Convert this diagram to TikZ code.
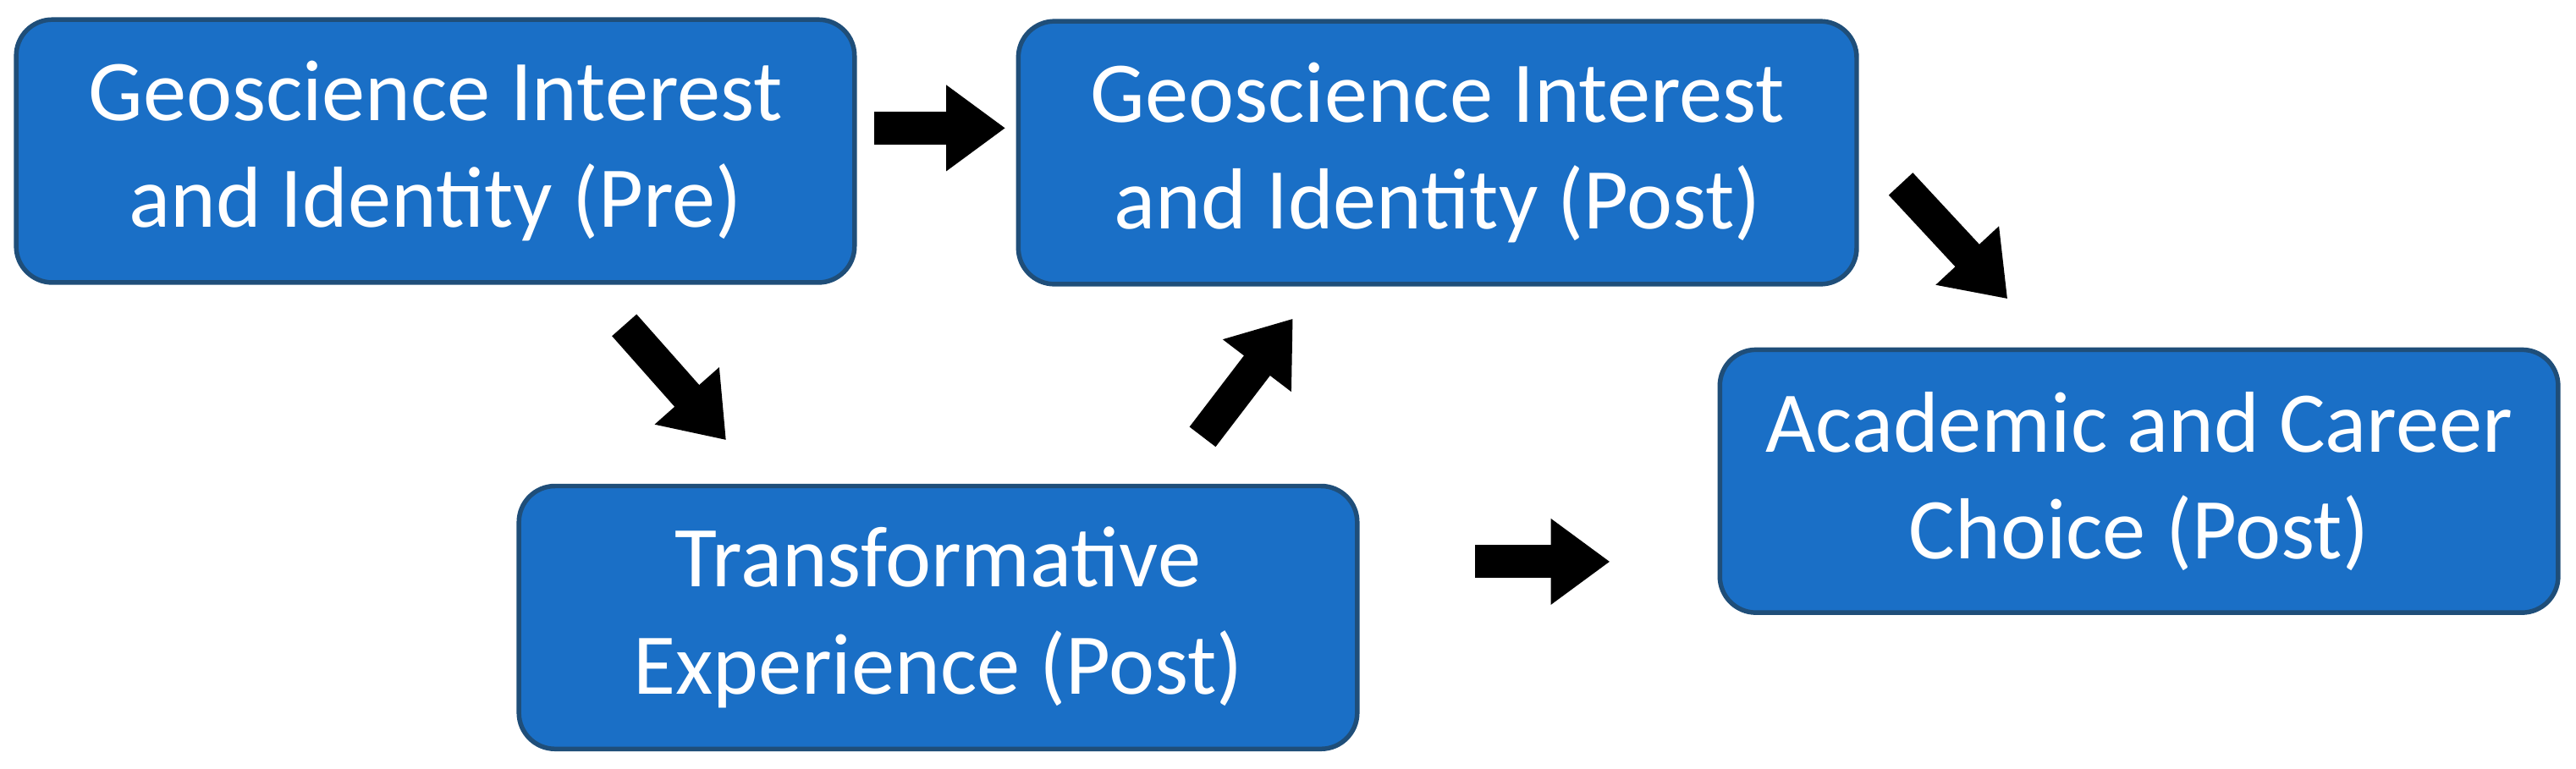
\documentclass[tikz,border=0pt]{standalone}
\usepackage{fontspec}
\setmainfont{Carlito}
\usetikzlibrary{arrows.meta}
\definecolor{boxblue}{HTML}{1A6FC6}
\definecolor{boxedge}{HTML}{1F4E79}
\begin{document}
\begin{tikzpicture}[x=0.01cm,y=-0.01cm,
  box/.style={draw=boxedge,line width=0.8pt,fill=boxblue,rounded corners=0.22cm,text=white,
    minimum width=5.1cm,minimum height=1.6cm,align=center,font=\fontsize{15}{18.5}\selectfont},
  blk/.style={line width=0.2cm,-{Triangle[width=0.5cm,length=0.36cm]}}]
\useasboundingbox (0,0) rectangle (1568,468);
\node[box] (b1) at (265,92) {Geoscience Interest\\and Identity (Pre)};
\node[box] (b2) at (875,93) {Geoscience Interest\\and Identity (Post)};
\node[box] (b3) at (571,376) {Transformative\\Experience (Post)};
\node[box] (b4) at (1302,293) {Academic and Career\\Choice (Post)};
\coordinate (a1s) at (532,78); \coordinate (a1e) at (612,78);
\coordinate (a2s) at (380,198); \coordinate (a2e) at (442,268);
\coordinate (a3s) at (732,266); \coordinate (a3e) at (787,194);
\coordinate (a4s) at (898,342); \coordinate (a4e) at (980,342);
\coordinate (a5s) at (1157,112); \coordinate (a5e) at (1222,182);
\draw[blk] (a1s) -- (a1e);
\draw[blk] (a2s) -- (a2e);
\draw[blk] (a3s) -- (a3e);
\draw[blk] (a4s) -- (a4e);
\draw[blk] (a5s) -- (a5e);
\end{tikzpicture}
\end{document}
